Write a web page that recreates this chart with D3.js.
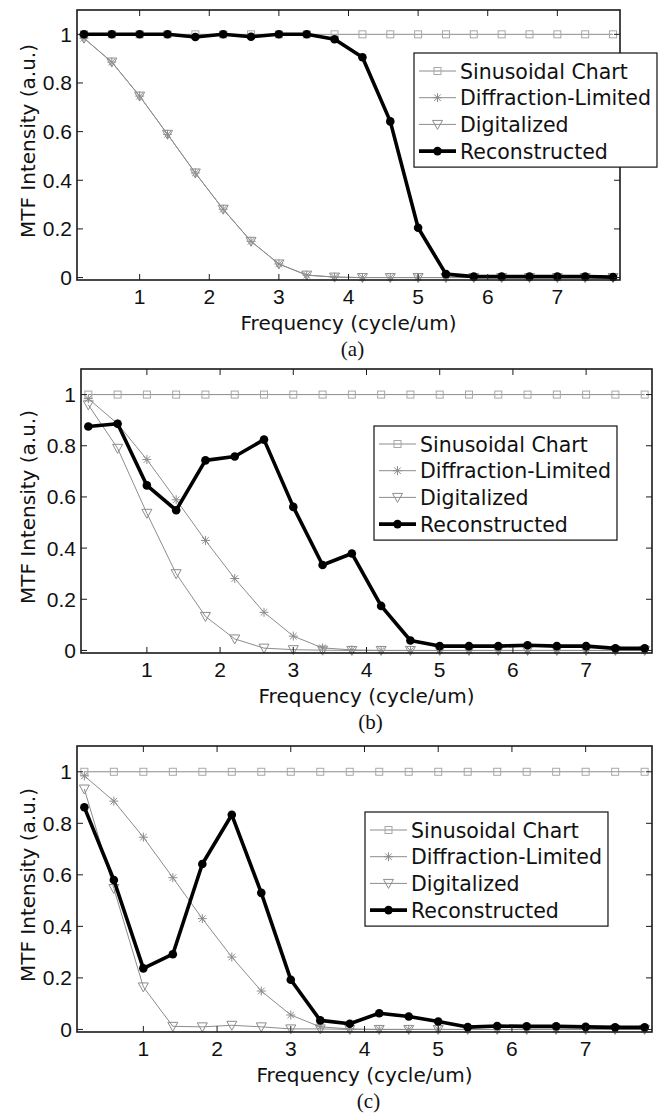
<!DOCTYPE html>
<html>
<head>
<meta charset="utf-8">
<script src="https://cdn.jsdelivr.net/npm/d3@7"></script>
<style>
  body { margin: 0; background: #fff; }
  svg { display: block; }
  .tick-label { font-family: "Liberation Sans", Arial, sans-serif; font-size: 21px; fill: #111; }
  .axis-label { font-family: "DejaVu Sans", sans-serif; font-size: 20px; fill: #111; }
  .legend text { font-family: "DejaVu Sans", sans-serif; font-size: 20.5px; fill: #111; }
  .caption { font-family: "Liberation Serif", "Times New Roman", serif; font-size: 21px; fill: #111; }
</style>
</head>
<body>
<svg id="chart" width="664" height="1115"></svg>
<script>
// spatial frequency samples (cycle/um)
const freq = [0.2, 0.6, 1.0, 1.4, 1.8, 2.2, 2.6, 3.0, 3.4, 3.8, 4.2, 4.6, 5.0, 5.4, 5.8, 6.2, 6.6, 7.0, 7.4, 7.8];

const sinusoidal = [1, 1, 1, 1, 1, 1, 1, 1, 1, 1, 1, 1, 1, 1, 1, 1, 1, 1, 1, 1];
const diffraction = [0.984, 0.886, 0.746, 0.589, 0.43, 0.281, 0.149, 0.056, 0.01, 0.002, 0, 0, 0, 0, 0, 0, 0, 0, 0, 0];

const digitalA = [0.984, 0.886, 0.746, 0.589, 0.43, 0.281, 0.149, 0.056, 0.01, 0.002, 0, 0, 0, 0, 0, 0, 0, 0, 0, 0];
const digitalB = [0.96, 0.79, 0.536, 0.30, 0.133, 0.045, 0.009, 0.003, 0.001, 0, 0, 0, 0, 0, 0, 0, 0, 0, 0, 0];
const digitalC = [0.933, 0.547, 0.165, 0.012, 0.01, 0.016, 0.01, 0.002, 0.002, 0, 0, 0, 0, 0, 0, 0, 0, 0, 0, 0];

const reconA = [1.0, 1.0, 1.0, 1.0, 0.989, 1.0, 0.99, 1.0, 1.0, 0.98, 0.906, 0.642, 0.205, 0.014, 0.004, 0.004, 0.004, 0.004, 0.004, 0.002];
const reconB = [0.875, 0.886, 0.645, 0.548, 0.743, 0.758, 0.824, 0.561, 0.334, 0.379, 0.174, 0.039, 0.017, 0.017, 0.017, 0.02, 0.017, 0.017, 0.008, 0.008];
const reconC = [0.862, 0.58, 0.237, 0.292, 0.642, 0.833, 0.53, 0.193, 0.035, 0.022, 0.063, 0.05, 0.031, 0.009, 0.013, 0.012, 0.012, 0.01, 0.008, 0.008];

const seriesNames = ['Sinusoidal Chart', 'Diffraction-Limited', 'Digitalized', 'Reconstructed'];
const xTicks = [1, 2, 3, 4, 5, 6, 7];
const yTicks = [0, 0.2, 0.4, 0.6, 0.8, 1];
const yTickLabels = ['0', '0.2', '0.4', '0.6', '0.8', '1'];
const panelLabels = ['(a)', '(b)', '(c)'];
const xLabel = 'Frequency (cycle/um)';
const yLabel = 'MTF Intensity (a.u.)';

const xDomain = [0.1, 7.9];
const yDomain = [-0.01, 1.1];

// pixel boxes of the three axes and where each legend sits
const panels = [
  { left: 77, right: 620, top: 10, bottom: 280, legX: 414, legY: 53, digital: digitalA, recon: reconA },
  { left: 81, right: 652, top: 369, bottom: 653, legX: 374, legY: 426, digital: digitalB, recon: reconB },
  { left: 77, right: 652, top: 746, bottom: 1032, legX: 365, legY: 812, digital: digitalC, recon: reconC },
];

const grayLine = '#8c8c8c';
const graySquare = '#a8a8a8';

const svg = d3.select('#chart');

function drawMarker(g, kind, x, y) {
  if (kind === 'square') {
    g.append('rect')
      .attr('x', x - 3.5).attr('y', y - 3.5)
      .attr('width', 7).attr('height', 7)
      .attr('fill', 'none').attr('stroke', graySquare).attr('stroke-width', 1);
  } else if (kind === 'star') {
    const r = 4.5, d = 3.3;
    g.append('path')
      .attr('d', `M${x - r},${y}L${x + r},${y}M${x},${y - r}L${x},${y + r}` +
        `M${x - d},${y - d}L${x + d},${y + d}M${x - d},${y + d}L${x + d},${y - d}`)
      .attr('stroke', grayLine).attr('stroke-width', 1).attr('fill', 'none');
  } else if (kind === 'tri') {
    g.append('path')
      .attr('d', `M${x - 5},${y - 4}L${x + 5},${y - 4}L${x},${y + 5}Z`)
      .attr('fill', 'none').attr('stroke', grayLine).attr('stroke-width', 1);
  } else if (kind === 'dot') {
    g.append('circle')
      .attr('cx', x).attr('cy', y).attr('r', 4.3)
      .attr('fill', '#000');
  }
}

const styles = [
  { kind: 'square', color: grayLine, width: 1 },
  { kind: 'star', color: grayLine, width: 1 },
  { kind: 'tri', color: grayLine, width: 1 },
  { kind: 'dot', color: '#000', width: 3.6 },
];

panels.forEach((p, pi) => {
  const x = d3.scaleLinear().domain(xDomain).range([p.left, p.right]);
  const y = d3.scaleLinear().domain(yDomain).range([p.bottom, p.top]);

  const g = svg.append('g').attr('class', 'panel');

  const seriesValues = [sinusoidal, diffraction, p.digital, p.recon];

  const line = d3.line()
    .x((d, i) => x(freq[i]))
    .y(d => y(d));

  // series lines + markers
  seriesValues.forEach((vals, si) => {
    const st = styles[si];
    const sg = g.append('g');
    sg.append('path')
      .datum(vals)
      .attr('d', line)
      .attr('fill', 'none')
      .attr('stroke', st.color)
      .attr('stroke-width', st.width)
      .attr('stroke-linejoin', 'round');
    vals.forEach((v, i) => drawMarker(sg, st.kind, x(freq[i]), y(v)));
  });

  // axes box with inward ticks on all four sides
  const tickLen = 6;
  const axisG = g.append('g');
  axisG.append('rect')
    .attr('x', p.left).attr('y', p.top)
    .attr('width', p.right - p.left).attr('height', p.bottom - p.top)
    .attr('fill', 'none').attr('stroke', '#1a1a1a').attr('stroke-width', 1.6);

  xTicks.forEach(t => {
    axisG.append('line')
      .attr('x1', x(t)).attr('x2', x(t))
      .attr('y1', p.bottom).attr('y2', p.bottom - tickLen)
      .attr('stroke', '#1a1a1a').attr('stroke-width', 1);
    axisG.append('line')
      .attr('x1', x(t)).attr('x2', x(t))
      .attr('y1', p.top).attr('y2', p.top + tickLen)
      .attr('stroke', '#1a1a1a').attr('stroke-width', 1);
    axisG.append('text')
      .attr('class', 'tick-label')
      .attr('x', x(t)).attr('y', p.bottom + 24)
      .attr('text-anchor', 'middle')
      .text(t);
  });

  yTicks.forEach((t, i) => {
    axisG.append('line')
      .attr('x1', p.left).attr('x2', p.left + tickLen)
      .attr('y1', y(t)).attr('y2', y(t))
      .attr('stroke', '#1a1a1a').attr('stroke-width', 1);
    axisG.append('line')
      .attr('x1', p.right).attr('x2', p.right - tickLen)
      .attr('y1', y(t)).attr('y2', y(t))
      .attr('stroke', '#1a1a1a').attr('stroke-width', 1);
    axisG.append('text')
      .attr('class', 'tick-label')
      .attr('x', p.left - 5).attr('y', y(t) + 7.5)
      .attr('text-anchor', 'end')
      .text(yTickLabels[i]);
  });

  // axis labels
  const midX = (p.left + p.right) / 2;
  const midY = (p.top + p.bottom) / 2;
  g.append('text')
    .attr('class', 'axis-label')
    .attr('transform', `translate(35,${midY - 4}) rotate(-90)`)
    .attr('text-anchor', 'middle')
    .text(yLabel);
  g.append('text')
    .attr('class', 'axis-label')
    .attr('x', midX).attr('y', p.bottom + 50)
    .attr('text-anchor', 'middle')
    .text(xLabel);
  g.append('text')
    .attr('class', 'caption')
    .attr('x', midX + 4).attr('y', p.bottom + 76)
    .attr('text-anchor', 'middle')
    .text(panelLabels[pi]);

  // legend
  const leg = g.append('g').attr('class', 'legend')
    .attr('transform', `translate(${p.legX},${p.legY})`);
  const box = leg.append('rect')
    .attr('fill', '#fff').attr('stroke', '#111').attr('stroke-width', 1.2);
  const rowH = 26.7;
  let maxW = 0;
  seriesNames.forEach((name, si) => {
    const st = styles[si];
    const cy = 18 + si * rowH;
    const rg = leg.append('g');
    rg.append('line')
      .attr('x1', 5).attr('x2', 42)
      .attr('y1', cy).attr('y2', cy)
      .attr('stroke', st.color).attr('stroke-width', st.width);
    drawMarker(rg, st.kind, 23.5, cy);
    const t = rg.append('text')
      .attr('x', 46).attr('y', cy + 7.5)
      .text(name);
    maxW = Math.max(maxW, t.node().getComputedTextLength());
  });
  box.attr('x', 0).attr('y', 0)
    .attr('width', 46 + maxW + 6)
    .attr('height', 18 + 3 * rowH + 16);
});
</script>
</body>
</html>
